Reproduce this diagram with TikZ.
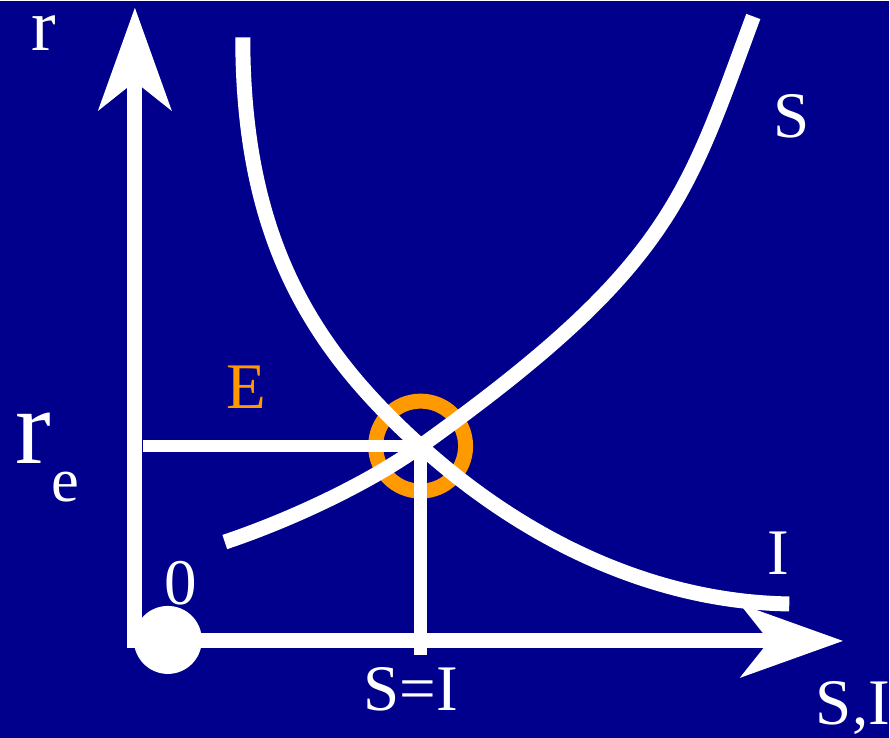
\documentclass[tikz,border=0pt]{standalone}
\usepackage{fontspec}
\setmainfont{Liberation Serif}
\newfontfamily\slidefont{Liberation Serif}
\usetikzlibrary{arrows.meta}
\definecolor{slideblue}{RGB}{0,0,140}
\definecolor{eqorange}{RGB}{255,153,0}

\begin{document}
\begin{tikzpicture}[
	  x=0.01cm, y=-0.01cm,
	  axisline/.style={white, line width=0.15cm, -{Stealth[length=1.02cm, width=0.72cm, inset=0.28cm]}},
	  curveline/.style={white, line width=0.15cm},
	  guideline/.style={white, line width=0.125cm},
	  txt/.style={text=white, inner sep=0pt, anchor=base, font=\slidefont\fontsize{18.5}{20}\selectfont}
	]

	\fill[slideblue] (0,0) rectangle (890,738);

	\coordinate (yfoot) at (135,648);
	\coordinate (ytip) at (135,7);
	\coordinate (xfoot) at (128,641);
	\coordinate (xtip) at (844,641);
	\coordinate (E) at (421,446);
	\coordinate (guideL) at (143,446);
	\coordinate (guideB) at (421,655);

	% equilibrium ring, under the curves
	\draw[eqorange, line width=0.15cm] (E) circle[radius=0.45cm];

	\draw[axisline] (xfoot) -- (xtip);
	\draw[axisline] (yfoot) -- (ytip);

	% I curve
	\draw[curveline] (243,37) .. controls (243,237) and (311,347) .. (E)
	  .. controls (531,545) and (660,602) .. (790,604);
	% S curve
	\draw[curveline] (225,542) .. controls (285,522) and (365,486) .. (E)
	  .. controls (673,266) and (687,196) .. (754,16);

	\draw[guideline] (guideL) -- (E) -- (guideB);

	\fill[white] (168,640) circle[radius=0.34cm];

	\node[txt, font=\slidefont\fontsize{21}{24}\selectfont] (rlabel) at (44,50) {r};
	\node[txt, anchor=base west, font=\slidefont\fontsize{30.5}{32}\selectfont] (relabel) at (15,463) {r\raisebox{-11pt}{\fontsize{17.8}{20}\selectfont e}};
	\node[txt, text=eqorange] (Elabel) at (247,408) {E};
	\node[txt] (Slabel) at (792,137) {S};
	\node[txt] (Ilabel) at (779,575) {I};
	\node[txt] (zero) at (181,605) {0};
	\node[txt] (eqlabel) at (411,711) {S=I};
	\node[txt, anchor=base west] (axislabel) at (816,725) {S,I};

\end{tikzpicture}
\end{document}
